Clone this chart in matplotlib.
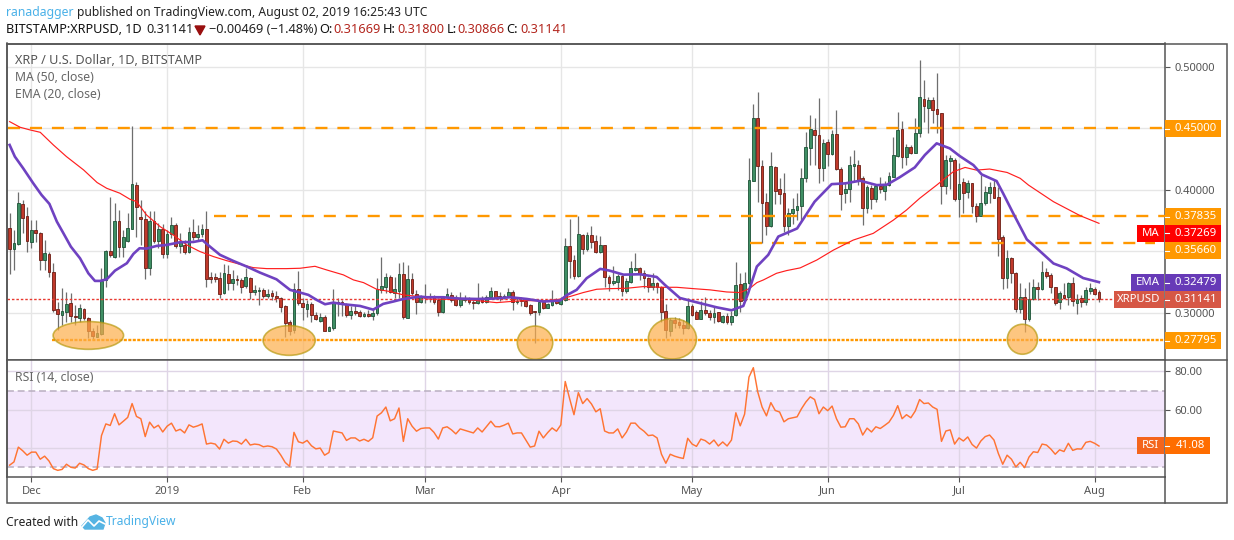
import matplotlib
matplotlib.use("Agg")
import matplotlib.pyplot as plt
from matplotlib.patches import Ellipse, Polygon, Rectangle
from matplotlib.lines import Line2D

plt.rcParams["font.family"] = ["Noto Sans", "DejaVu Sans"]

# daily candles, 26 Nov 2018 to 2 Aug 2019
opens = [
    .3687, .3516, .3556, .3882, .3787, .3578, .3673, .3646, .3429, .3478,
    .3328, .3027, .2981, .3008, .3076, .2973, .2954, .3027, .2954, .2851,
    .2805, .2826, .3266, .3505, .3456, .3744, .3537, .3586, .3684, .4040,
    .3776, .3760, .3361, .3744, .3586, .3679, .3478, .3638, .3711, .3543,
    .3551, .3497, .3654, .3619, .3638, .3679, .3288, .3288, .3280, .3157,
    .3315, .3239, .3271, .3266, .3217, .3280, .3171, .3179, .3185, .3138,
    .3157, .3136, .3117, .3054, .2921, .2859, .3190, .3081, .3027, .3071,
    .2981, .2935, .2962, .2853, .2872, .3087, .3087, .3071, .2981, .3014,
    .3005, .2976, .2989, .2976, .2995, .3185, .3212, .3288, .3163, .3179,
    .3312, .2959, .3271, .3149, .3090, .3138, .3138, .3130, .3103, .3008,
    .3130, .3147, .3109, .3060, .3103, .3109, .3084, .3079, .3111, .3090,
    .3125, .3174, .3138, .3128, .3138, .3166, .3087, .3100, .3092, .3060,
    .3011, .3008, .3087, .3041, .3062, .3103, .3071, .3103, .3543, .3429,
    .3301, .3632, .3518, .3632, .3584, .3497, .3551, .3290, .3244, .3252,
    .3299, .3179, .3252, .3347, .3361, .3320, .3280, .3212, .3239, .3212,
    .3011, .2853, .2940, .2921, .2900, .2872, .3054, .3003, .2951, .3022,
    .2995, .2965, .3003, .2925, .2971, .2925, .2977, .3229, .3102, .3238,
    .4074, .4581, .4193, .3897, .3707, .4182, .4003, .3970, .3707, .3808,
    .3835, .3870, .4098, .4337, .4486, .4443, .4179, .4386, .4293, .4451,
    .4166, .3976, .4003, .4196, .4198, .4093, .3854, .4014, .3927, .4030,
    .3992, .4038, .4106, .4274, .4492, .4269, .4345, .4302, .4464, .4736,
    .4668, .4730, .4654, .4622, .4033, .4236, .4242, .3927, .4060, .3984,
    .4052, .3867, .3789, .3894, .3976, .4022, .3941, .3612, .3284, .3444,
    .3319, .3031, .3129, .2950, .3107, .3205, .3189, .3327, .3303, .3205,
    .3083, .3145, .3129, .3238, .3080, .3115, .3088, .3178, .3194, .31669,
]
highs = [
    .3809, .3673, .3985, .3917, .3863, .3755, .3755, .3660, .3592, .3497,
    .3402, .3090, .3198, .3171, .3157, .3062, .3071, .3035, .2967, .2872,
    .2900, .3361, .3510, .3945, .3890, .3836, .3673, .3809, .4520, .4067,
    .3917, .3831, .3831, .3831, .3727, .3722, .3673, .3776, .3727, .3646,
    .3592, .3700, .3763, .3714, .3722, .3828, .3334, .3320, .3334, .3394,
    .3388, .3347, .3307, .3280, .3361, .3293, .3225, .3206, .3198, .3190,
    .3185, .3179, .3130, .3062, .2940, .3239, .3339, .3117, .3103, .3090,
    .3008, .2995, .2981, .2891, .3190, .3117, .3103, .3076, .3054, .3062,
    .3022, .3008, .3022, .3035, .3280, .3451, .3320, .3307, .3293, .3402,
    .3415, .3388, .3320, .3185, .3144, .3231, .3157, .3144, .3117, .3136,
    .3198, .3171, .3144, .3171, .3144, .3125, .3103, .3239, .3138, .3144,
    .3212, .3179, .3171, .3152, .3198, .3185, .3125, .3125, .3103, .3071,
    .3011, .3103, .3098, .3081, .3185, .3117, .3130, .3605, .3760, .3470,
    .3787, .3641, .3660, .3706, .3632, .3624, .3551, .3307, .3380, .3315,
    .3307, .3280, .3421, .3483, .3369, .3347, .3293, .3320, .3252, .3217,
    .3071, .2954, .2962, .2954, .2940, .3117, .3071, .3022, .3098, .3125,
    .3022, .3049, .3008, .2980, .2993, .3015, .3411, .3319, .3333, .4255,
    .4698, .4793, .4242, .3970, .4307, .4193, .4093, .4133, .3848, .3930,
    .3970, .4174, .4473, .4608, .4581, .4744, .4410, .4410, .4486, .4649,
    .4182, .4065, .4274, .4323, .4242, .4112, .4038, .4038, .4038, .4106,
    .4074, .4147, .4426, .4633, .4562, .4372, .4364, .4581, .5056, .4893,
    .4757, .4757, .4948, .4627, .4283, .4283, .4255, .4215, .4093, .4079,
    .4057, .3889, .4117, .4030, .4065, .4079, .4025, .3631, .3509, .3449,
    .3333, .3238, .3197, .3251, .3270, .3251, .3422, .3360, .3319, .3210,
    .3178, .3238, .3251, .3286, .3151, .3140, .3210, .3238, .3205, .31800,
]
lows = [
    .3315, .3347, .3551, .3646, .3497, .3524, .3578, .3347, .3347, .3293,
    .3008, .2859, .2900, .2927, .2927, .2900, .2927, .2940, .2791, .2783,
    .2799, .2818, .3206, .3456, .3442, .3456, .3456, .3578, .3679, .3619,
    .3551, .3271, .3307, .3565, .3524, .3442, .3442, .3605, .3524, .3483,
    .3478, .3483, .3592, .3586, .3619, .3206, .3239, .3252, .3117, .3152,
    .3185, .3185, .3225, .3157, .3198, .3109, .3144, .3062, .3117, .3117,
    .3103, .3090, .3008, .2805, .2818, .2832, .3062, .2940, .2967, .2927,
    .2940, .2927, .2853, .2853, .2859, .2973, .2973, .2967, .2946, .2981,
    .2962, .2962, .2962, .2940, .2981, .3157, .3157, .3157, .3117, .3117,
    .2946, .2954, .3144, .2989, .3076, .3076, .3090, .3071, .2973, .2995,
    .3117, .3090, .3054, .3049, .3090, .3071, .3030, .3071, .3076, .3076,
    .3117, .3125, .3098, .3109, .3125, .3022, .3071, .3054, .3043, .2981,
    .2756, .2981, .3030, .3035, .3054, .3071, .3062, .3098, .3280, .3271,
    .3293, .3478, .3505, .3524, .3483, .3489, .3212, .3179, .3225, .3185,
    .3136, .3157, .3244, .3342, .3266, .3198, .3171, .3185, .3157, .2927,
    .2791, .2810, .2872, .2878, .2826, .2864, .2973, .2946, .2946, .2981,
    .2940, .2919, .2924, .2912, .2904, .2898, .2971, .3007, .3096, .3232,
    .4068, .3903, .3569, .3631, .3699, .3884, .3884, .3658, .3631, .3721,
    .3753, .3753, .4065, .4201, .4201, .4052, .4074, .4196, .4283, .4160,
    .3835, .3889, .3903, .4065, .4038, .3715, .3808, .3840, .3903, .3970,
    .3916, .4030, .4101, .4269, .4177, .4201, .4291, .4296, .4426, .4554,
    .4464, .4546, .4464, .3884, .3965, .4003, .3908, .3780, .3808, .3930,
    .3808, .3737, .3786, .3875, .3889, .3930, .3460, .3189, .3197, .3238,
    .3007, .2999, .2844, .2933, .3102, .3102, .3183, .3278, .3162, .3061,
    .3031, .3113, .3061, .3053, .2988, .3048, .3061, .3151, .3143, .30866,
]
closes = [
    .3516, .3565, .3890, .3774, .3586, .3673, .3646, .3429, .3483, .3328,
    .3022, .2986, .3014, .3071, .2976, .2967, .3035, .2954, .2853, .2813,
    .2832, .3261, .3505, .3472, .3744, .3537, .3613, .3687, .4045, .3863,
    .3760, .3366, .3744, .3586, .3684, .3478, .3638, .3711, .3543, .3573,
    .3497, .3654, .3619, .3638, .3679, .3277, .3277, .3277, .3152, .3320,
    .3239, .3271, .3266, .3212, .3288, .3171, .3185, .3185, .3138, .3152,
    .3138, .3117, .3049, .2913, .2853, .3190, .3076, .3043, .3071, .2981,
    .2948, .2962, .2853, .2881, .3090, .3076, .3071, .2981, .3014, .3000,
    .2976, .2989, .2976, .3000, .3190, .3217, .3288, .3171, .3190, .3312,
    .2967, .3271, .3157, .3090, .3130, .3125, .3125, .3090, .3008, .3130,
    .3149, .3106, .3065, .3117, .3109, .3084, .3079, .3111, .3090, .3130,
    .3174, .3130, .3128, .3138, .3166, .3084, .3095, .3092, .3057, .3000,
    .3005, .3087, .3038, .3071, .3098, .3081, .3109, .3543, .3423, .3299,
    .3641, .3518, .3632, .3578, .3497, .3551, .3288, .3244, .3255, .3299,
    .3179, .3258, .3361, .3361, .3315, .3280, .3206, .3239, .3206, .3008,
    .2859, .2940, .2919, .2900, .2878, .3054, .2984, .2951, .3022, .2995,
    .2967, .2995, .2935, .2971, .2925, .2971, .3224, .3096, .3238, .4079,
    .4581, .4196, .3889, .3707, .4193, .3992, .3968, .3707, .3808, .3840,
    .3865, .4093, .4345, .4492, .4448, .4179, .4378, .4293, .4451, .4166,
    .3968, .4003, .4198, .4209, .4079, .3854, .4019, .3927, .4030, .4003,
    .4046, .4112, .4280, .4486, .4269, .4350, .4296, .4459, .4752, .4684,
    .4730, .4649, .4619, .4033, .4242, .4258, .3927, .4044, .3976, .4054,
    .3870, .3789, .3889, .3979, .4022, .3935, .3601, .3284, .3441, .3319,
    .3031, .3124, .2944, .3107, .3205, .3189, .3327, .3300, .3205, .3075,
    .3156, .3121, .3238, .3091, .3110, .3088, .3181, .3197, .3153, .31141,
]
rsi = [
    31.1, 32.8, 40.5, 38.6, 36.3, 37.9, 37.9, 34.2, 35.8, 33.3,
    29.3, 28.4, 28.9, 31.6, 30.0, 29.6, 32.1, 31.2, 29.3, 28.4,
    29.1, 46.5, 52.6, 51.8, 57.9, 52.1, 54.0, 56.0, 63.2, 56.5,
    55.3, 46.0, 53.5, 50.5, 51.9, 48.4, 51.4, 53.0, 48.9, 49.8,
    47.9, 52.1, 50.9, 51.6, 52.6, 42.1, 42.6, 42.1, 39.5, 44.6,
    42.6, 43.7, 43.5, 42.1, 44.6, 41.6, 42.1, 41.8, 40.7, 41.1,
    40.7, 39.5, 36.3, 32.5, 30.5, 48.2, 43.3, 42.6, 44.0, 41.2,
    39.6, 40.0, 36.3, 37.7, 48.9, 48.4, 47.9, 44.0, 45.3, 45.3,
    43.7, 44.6, 43.5, 45.4, 56.7, 58.4, 61.4, 54.2, 55.3, 60.9,
    43.5, 55.3, 51.4, 48.8, 50.2, 50.5, 50.5, 48.2, 44.7, 50.5,
    51.1, 49.5, 47.4, 50.0, 49.3, 48.6, 47.9, 50.5, 48.4, 51.2,
    54.0, 51.2, 51.1, 51.9, 53.0, 47.4, 47.9, 47.9, 44.2, 40.5,
    41.1, 48.8, 45.3, 48.1, 50.5, 48.8, 52.1, 74.7, 65.8, 57.4,
    68.9, 63.2, 65.8, 63.0, 58.9, 60.5, 48.9, 47.9, 47.9, 50.0,
    45.3, 48.4, 53.0, 53.0, 50.5, 48.8, 46.5, 46.8, 45.3, 36.8,
    32.1, 36.8, 35.8, 35.1, 34.6, 45.1, 42.1, 40.9, 44.7, 43.9,
    42.1, 44.2, 41.1, 43.2, 41.1, 44.2, 58.4, 51.6, 57.7, 77.0,
    81.9, 69.3, 61.4, 56.8, 63.7, 59.6, 58.8, 53.7, 55.3, 55.8,
    56.3, 60.5, 64.0, 66.7, 65.3, 57.9, 61.4, 59.5, 61.9, 55.3,
    50.9, 51.1, 55.3, 55.3, 52.6, 46.8, 50.4, 48.4, 51.1, 50.2,
    51.8, 53.5, 57.0, 62.1, 55.3, 57.4, 55.8, 59.3, 65.3, 63.2,
    63.5, 61.4, 60.2, 43.5, 48.9, 49.5, 42.1, 45.3, 43.7, 45.8,
    41.9, 40.0, 43.7, 46.0, 46.8, 44.2, 37.2, 31.6, 36.3, 34.2,
    30.2, 32.6, 29.8, 35.3, 38.1, 37.7, 42.1, 41.6, 39.5, 36.8,
    39.1, 38.2, 42.5, 38.8, 39.6, 39.5, 43.0, 43.5, 42.5, 41.08,
]

# moving averages read at the turning points (candle number, price)
ma_days = [
    0, 2.4, 4.7, 7, 10, 13, 16.9, 20, 22.2, 25.2, 27.5, 29, 31.3, 34.4, 37.4,
    40.5, 43.5, 46.6, 49.6, 52.6, 55.7, 58.8, 63.3, 66.4, 69.8, 72.5, 76.3,
    78.6, 80.9, 83.9, 87, 90, 93.8, 95.3, 99.2, 103, 106.8, 111.3, 114.4,
    118.2, 122, 125.8, 128, 131.1, 134.2, 137.2, 141, 144.9, 148.7, 152.5,
    156.3, 160.1, 163.9, 167, 169.2, 170.8, 172.3, 175.3, 177.6, 180.7, 184.5,
    188.3, 192.8, 197.4, 202, 205, 208, 211.9, 215.7, 218.4, 221, 224, 228,
    231, 232.9, 238.6, 244.7, 249,
]
ma_values = [
    .4555, .4509, .4487, .4468, .4365, .4270, .4162, .4059, .4012, .3972,
    .3923, .3904, .3795, .3700, .3632, .3551, .3497, .3456, .3423, .3394,
    .3366, .3358, .3358, .3361, .3377, .3347, .3307, .3266, .3244, .3190,
    .3171, .3144, .3130, .3111, .3109, .3109, .3098, .3081, .3090, .3098,
    .3095, .3109, .3130, .3163, .3190, .3195, .3198, .3212, .3206, .3206,
    .3195, .3185, .3168, .3163, .3198, .3244, .3266, .3320, .3342, .3364,
    .3428, .3509, .3590, .3645, .3753, .3835, .3930, .4038, .4147, .4182,
    .4160, .4169, .4141, .4093, .4038, .3903, .3789, .37269,
]
ema_days = [
    0, 1.2, 3.1, 5.4, 7.3, 9.1, 10.8, 12.3, 14, 16.1, 18, 19.5, 20.7, 22.2,
    24.1, 26.8, 28.3, 29.7, 31.3, 33.6, 35.9, 39, 42, 44.1, 45.8, 48.1, 51.1,
    54.2, 57.2, 61, 64.1, 66.4, 68.3, 70.2, 72.1, 74, 76.3, 80.1, 83.1, 85.4,
    87.7, 90, 93.8, 95.3, 99.1, 103, 106.8, 110.6, 114.4, 118.2, 122, 125.8,
    127.3, 129.6, 131.9, 135, 137.1, 140.3, 144.1, 147.9, 149.8, 153.2, 157,
    161.6, 165, 167.7, 168.8, 170.8, 173.4, 175.7, 180, 184, 187.9, 191, 194.4,
    198.2, 200.5, 203.5, 206.9, 209.2, 211.9, 214.9, 217.2, 220.3, 222.2,
    225.6, 227.1, 229.4, 232.5, 234.8, 238.6, 241.6, 245.4, 249,
]
ema_values = [
    .4365, .4270, .4175, .4053, .3958, .3885, .3741, .3646, .3537, .3442,
    .3320, .3258, .3258, .3271, .3342, .3402, .3478, .3524, .3521, .3543,
    .3551, .3573, .3575, .3589, .3537, .3470, .3421, .3375, .3326, .3271,
    .3185, .3163, .3144, .3103, .3068, .3081, .3068, .3054, .3024, .3071,
    .3090, .3111, .3130, .3125, .3125, .3114, .3111, .3114, .3125, .3111,
    .3090, .3098, .3141, .3185, .3280, .3356, .3342, .3309, .3312, .3290,
    .3225, .3119, .3084, .3043, .3019, .3054, .3157, .3375, .3470, .3619,
    .3685, .3903, .4046, .4052, .4074, .4038, .4041, .4103, .4182, .4283,
    .4378, .4337, .4274, .4201, .4125, .4071, .3970, .3808, .3596, .3523,
    .3400, .3360, .3281, .32479,
]

month_days = [5, 36, 67, 95, 126, 156, 187, 217, 248]
month_labels = ["Dec", "2019", "Feb", "Mar", "Apr", "May", "Jun", "Jul", "Aug"]
price_ticks = [0.30, 0.35, 0.40, 0.45, 0.50]
price_tick_labels = ["0.30000", "", "0.40000", "", "0.50000"]
rsi_ticks = [40, 60, 80]
rsi_tick_labels = ["", "60.00", "80.00"]

last_price = 0.31141
dashed_levels = [0.45000, 0.37835, 0.35660]
dashed_starts = [-0.3, 46.7, 169.2]
dashed_ends = [264.1, 264.1, 261.9]
support_level = 0.27795
support_start = 9.7

# ringed lows: candle number, price, width in candles, height in price
circle_days = [18.0, 63.9, 120.1, 151.5, 231.5]
circle_prices = [0.2814, 0.2773, 0.2755, 0.2787, 0.2783]
circle_widths = [16.1, 11.9, 8.1, 11.0, 6.9]
circle_heights = [0.0226, 0.0242, 0.0271, 0.0331, 0.0244]

W, H = 1234, 540
LEFT, RIGHT, TOP, SPLIT, BOTTOM, FRAME_R, FRAME_B = 6.5, 1165, 43.5, 360, 476.5, 1227, 503
GRID = "#e6e6e6"
AXIS = "#555555"
ORANGE = "#ff9800"


def fx(x):
    return x / W


def fy(y):
    return 1 - y / H


def fig_text(x, y, s, **kw):
    kw.setdefault("va", "center")
    kw.setdefault("ha", "left")
    fig.text(fx(x), fy(y), s, **kw)


def tag(y0, y1, x0, x1, color, text, ha="center", tick=False):
    fig.add_artist(Rectangle((fx(x0), fy(y1)), (x1 - x0) / W, (y1 - y0) / H, color=color,
                             lw=0, transform=fig.transFigure, zorder=5))
    shift = 3 if tick else 0
    fig.text(fx((x0 + x1) / 2 + shift), fy((y0 + y1) / 2), text, color="white", fontsize=8.2,
             fontweight="bold", ha=ha, va="center", zorder=6)
    if tick:
        fig.add_artist(Line2D([fx(x0), fx(x0 + 4)], [fy((y0 + y1) / 2)] * 2, color="white",
                              lw=0.8, transform=fig.transFigure, zorder=6))


def style_axes(a):
    a.set_xlim((LEFT - 9.6) / 4.375, (RIGHT - 9.6) / 4.375)
    a.yaxis.tick_right()
    a.set_xticks(month_days)
    a.grid(True, color=GRID, lw=1)
    a.set_axisbelow(True)
    a.tick_params(axis="both", color=AXIS, length=3.5, width=0.8, labelcolor="#555555", labelsize=8)
    for spine in a.spines.values():
        spine.set_color(AXIS)
        spine.set_linewidth(1.1)


fig = plt.figure(figsize=(W / 100, H / 100), dpi=100, facecolor="white")
ax = fig.add_axes([fx(LEFT), fy(SPLIT), (RIGHT - LEFT) / W, (SPLIT - TOP) / H])
ax_rsi = fig.add_axes([fx(LEFT), fy(BOTTOM), (RIGHT - LEFT) / W, (BOTTOM - SPLIT) / H])

# price pane
style_axes(ax)
ax.set_ylim(0.2614, 0.5191)
ax.set_yticks(price_ticks)
ax.set_yticklabels(price_tick_labels)
ax.tick_params(axis="x", length=0, labelbottom=False)

days = list(range(len(closes)))
ax.vlines(days, lows, highs, color="#6e6e6e", lw=0.9, zorder=2)
body_colors = ["#c0392b" if c < o else "#3f8f64" for o, c in zip(opens, closes)]
edge_colors = ["#6b1d14" if c < o else "#1c5236" for o, c in zip(opens, closes)]
bottoms = [min(o, c) for o, c in zip(opens, closes)]
heights = [max(abs(c - o), 0.0006) for o, c in zip(opens, closes)]
ax.bar(days, heights, bottom=bottoms, width=0.62, color=body_colors, edgecolor=edge_colors,
       lw=0.6, zorder=3)

for price, start, end in zip(dashed_levels, dashed_starts, dashed_ends):
    ax.plot([start, end], [price, price], color=ORANGE, lw=1.7, ls=(0, (5.1, 4.2)), zorder=4)
ax.plot([support_start, ax.get_xlim()[1]], [support_level, support_level], color=ORANGE, lw=1.7,
        ls=(0, (1.3, 0.6)), zorder=4)
ax.axhline(last_price, color="#e8392f", lw=1, ls=(0, (1.8, 1.4)), zorder=4)

ax.plot(ma_days, ma_values, color="#ff1f1f", lw=0.85, zorder=5)
ax.plot(ema_days, ema_values, color="#6f42c1", lw=1.9, zorder=5)

for day, price, width, height in zip(circle_days, circle_prices, circle_widths, circle_heights):
    ax.add_patch(Ellipse((day, price), width, height, facecolor="#fdae4b", alpha=0.7,
                         edgecolor="#b89a10", lw=1.2, zorder=6))

# rsi pane
style_axes(ax_rsi)
ax_rsi.set_ylim(25.2, 85.9)
ax_rsi.set_yticks(rsi_ticks)
ax_rsi.set_yticklabels(rsi_tick_labels)
ax_rsi.set_xticklabels(month_labels)
ax_rsi.get_xticklabels()[1].set_fontweight("bold")
ax_rsi.tick_params(axis="x", pad=3)
ax_rsi.axhspan(30, 70, color="#f3e6fc", lw=0, zorder=0.5)
ax_rsi.grid(True, color="#dfd5e6", lw=1)
ax_rsi.axhline(70, color="#b9aec0", lw=1.1, ls=(0, (4.5, 2.5)), zorder=1)
ax_rsi.axhline(30, color="#b9aec0", lw=1.1, ls=(0, (4.5, 2.5)), zorder=1)
ax_rsi.plot(days, rsi, color="#ff7433", lw=1.05, zorder=3)

# outer frame
fig.add_artist(Rectangle((fx(LEFT), fy(FRAME_B)), (FRAME_R - LEFT) / W, (FRAME_B - TOP) / H,
                         fill=False, edgecolor=AXIS, lw=1.1, transform=fig.transFigure, zorder=4))
fig.add_artist(Line2D([fx(RIGHT), fx(FRAME_R)], [fy(SPLIT), fy(SPLIT)], color=AXIS, lw=1.1,
                      transform=fig.transFigure, zorder=4))
fig.add_artist(Line2D([fx(RIGHT), fx(RIGHT)], [fy(BOTTOM), fy(FRAME_B)], color=AXIS, lw=1.1,
                      transform=fig.transFigure, zorder=4))

# price and indicator tags
tag(120, 137, 1165, 1221, ORANGE, "0.45000", tick=True)
tag(208, 225, 1165, 1221, ORANGE, "0.37835", tick=True)
tag(242, 259, 1165, 1221, ORANGE, "0.35660", tick=True)
tag(225, 242, 1165, 1221, "#ff0000", "0.37269", tick=True)
tag(225, 242, 1137, 1164, "#ff0000", "MA")
tag(274, 291, 1165, 1221, "#673ab7", "0.32479", tick=True)
tag(274, 291, 1131, 1164, "#673ab7", "EMA")
tag(291, 308, 1165, 1221, "#d65745", "0.31141", tick=True)
tag(291, 308, 1114, 1164, "#d65745", "XRPUSD")
tag(332, 349, 1165, 1221, ORANGE, "0.27795", tick=True)
tag(437, 454, 1165, 1210, "#ff6d00", "41.08", tick=True)
tag(437, 454, 1137, 1164, "#f4651c", "RSI")

# pane legends
fig_text(15, 60.5, "XRP / U.S. Dollar, 1D, BITSTAMP", color="#555555", fontsize=9.1, fontweight="bold", zorder=6)
fig_text(15, 77.5, "MA (50, close)", color="#666666", fontsize=8.8, zorder=6)
fig_text(15, 94.5, "EMA (20, close)", color="#666666", fontsize=8.8, zorder=6)
fig_text(15, 377.5, "RSI (14, close)", color="#666666", fontsize=8.8, zorder=6)

# header
fig_text(6, 12.5, "ranadagger", color="#4ab1e8", fontsize=8.8)
fig_text(77, 12.5, "published on TradingView.com, August 02, 2019 16:25:43 UTC", color="#222222", fontsize=8.7)
fig_text(6, 29.5, "BITSTAMP:XRPUSD, 1D", color="#111111", fontsize=9.1, fontweight="bold")
fig_text(146, 29.5, "0.31141", color="#222222", fontsize=9.2)
fig.add_artist(Polygon([[fx(195), fy(26)], [fx(205), fy(26)], [fx(200), fy(35)]], color="#990f0f",
                       transform=fig.transFigure))
fig_text(209, 29.5, "\u22120.00469 (\u22121.48%)", color="#222222", fontsize=9.2)
for x, label, value_x, value in zip([319, 383, 447, 506], ["O:", "H:", "L:", "C:"],
                                    [333, 397, 457, 520], ["0.31669", "0.31800", "0.30866", "0.31141"]):
    fig_text(x, 29.5, label, color="#111111", fontsize=9.2, fontweight="bold")
    fig_text(value_x, 29.5, value, color="#b3261e", fontsize=9.2)

# footer
fig_text(6, 522, "Created with", color="#222222", fontsize=8.7)
fig.add_artist(Polygon([[fx(x), fy(y)] for x, y in [(82, 526), (90, 517), (96, 515), (102, 518),
                                                    (105, 523), (103, 529), (85, 529)]],
                       color="#56b4e3", transform=fig.transFigure))
fig.add_artist(Line2D([fx(x) for x in [82, 88, 94, 99, 105]], [fy(y) for y in [527, 520, 526, 521, 524]],
                      color="white", lw=1.2, transform=fig.transFigure))
fig_text(106, 522, "TradingView", color="#4ab1e8", fontsize=8.7)

fig.savefig("out.png", dpi=100, facecolor="white")
